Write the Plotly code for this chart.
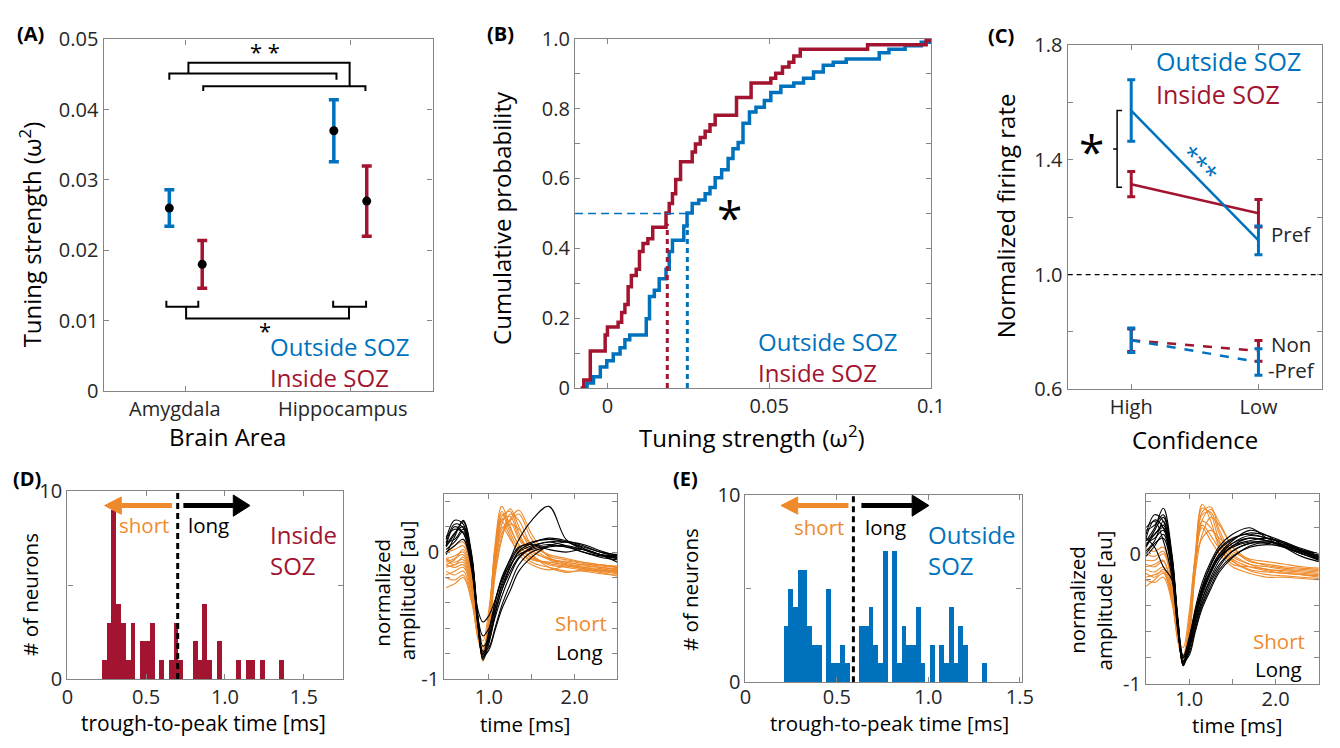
import plotly.graph_objects as go

W, H = 1340, 748
def fx(p): return p / W
def fy(p): return 1 - p / H

BLUE = '#0072BD'
RED = '#A2142F'
ORANGE = '#EE8A2C'
FONT = 'Open Sans'
AXC = '#858585'
TXT = '#262626'

# ---------------- data ----------------
# (A) tuning strength
a_categories = ['Amygdala', 'Hippocampus']
a_out_mean = [0.026, 0.037]
a_out_err = [0.0026, 0.0044]
a_in_mean = [0.018, 0.027]
a_in_err = [0.0034, 0.0050]

# (B) cumulative distributions (step vertices)
b_in_x = [-0.0083, -0.0073, -0.0053, -0.0007, 0.0000, 0.0033, 0.0044, 0.0054, 0.0064, 0.0074,
          0.0089, 0.0099, 0.0110, 0.0125, 0.0140, 0.0181, 0.0191, 0.0201, 0.0211, 0.0226,
          0.0262, 0.0272, 0.0287, 0.0302, 0.0317, 0.0333, 0.0399, 0.0444, 0.0505, 0.0520,
          0.0541, 0.0561, 0.0576, 0.0596, 0.0804, 0.0985, 0.1000]
b_in_y = [0.0, 0.023, 0.106, 0.152, 0.175, 0.188, 0.216, 0.239, 0.290, 0.322,
          0.340, 0.391, 0.414, 0.427, 0.460, 0.501, 0.528, 0.556, 0.597, 0.648,
          0.676, 0.699, 0.717, 0.735, 0.754, 0.781, 0.832, 0.873, 0.887, 0.901,
          0.919, 0.933, 0.951, 0.970, 0.983, 0.995, 1.0]
b_out_x = [-0.0078, -0.0063, -0.0043, -0.0022, -0.0002, 0.0018, 0.0039, 0.0054, 0.0069, 0.0120,
           0.0130, 0.0145, 0.0160, 0.0181, 0.0191, 0.0201, 0.0236, 0.0246, 0.0262, 0.0282,
           0.0302, 0.0317, 0.0333, 0.0353, 0.0373, 0.0388, 0.0404, 0.0419, 0.0439, 0.0459,
           0.0485, 0.0505, 0.0536, 0.0576, 0.0606, 0.0637, 0.0667, 0.0698, 0.0738, 0.0840,
           0.0870, 0.0920, 0.0970, 0.1000]
b_out_y = [0.0, 0.014, 0.032, 0.060, 0.078, 0.097, 0.115, 0.138, 0.152, 0.198,
           0.262, 0.280, 0.313, 0.340, 0.391, 0.423, 0.464, 0.501, 0.528, 0.538,
           0.556, 0.574, 0.602, 0.625, 0.657, 0.685, 0.703, 0.758, 0.790, 0.804,
           0.823, 0.846, 0.864, 0.873, 0.887, 0.905, 0.924, 0.933, 0.942, 0.960,
           0.970, 0.980, 0.990, 1.0]
b_in_median = 0.0185
b_out_median = 0.0247

# (C) normalized firing rate
c_categories = ['High', 'Low']
c_out_pref = [1.572, 1.119]
c_out_pref_err = [0.107, 0.050]
c_in_pref = [1.315, 1.214]
c_in_pref_err = [0.044, 0.048]
c_out_non = [0.771, 0.695]
c_out_non_err = [0.043, 0.046]
c_in_non = [0.771, 0.734]
c_in_non_err = [0.039, 0.036]

# (D) inside SOZ trough-to-peak histogram
d_bin_start = 0.221
d_bin_width = 0.0304
d_counts = [1, 3, 9, 4, 3, 1, 3, 0, 2, 2, 3, 0, 1, 0, 1, 3, 1, 0, 0, 2,
            1, 4, 1, 0, 2, 0, 0, 0, 1, 0, 1, 1, 0, 1, 0, 0, 0, 1]
d_threshold = 0.70

# (E) outside SOZ trough-to-peak histogram
e_bin_start = 0.212
e_bin_width = 0.0258
e_counts = [3, 5, 4, 6, 6, 3, 2, 2, 0, 5, 1, 1, 2, 1, 0, 0, 3, 3, 4, 2,
            1, 7, 0, 7, 1, 3, 2, 2, 4, 1, 0, 2, 0, 2, 1, 4, 1, 3, 2, 0,
            0, 0, 1]
e_threshold = 0.59

# waveforms (sample times in ms)
wf_t = [0.5, 0.6, 0.7, 0.8, 0.87, 0.93, 1.0, 1.07, 1.15, 1.25, 1.35, 1.5, 1.7, 1.9, 2.1, 2.3, 2.5]
d_short = [
    [-0.05, -0.08, -0.06, -0.25, -0.62, -0.84, -0.55, 0.05, 0.36, 0.20, 0.05, -0.05, -0.08, -0.10, -0.12, -0.14, -0.15],
    [-0.10, -0.12, -0.10, -0.30, -0.65, -0.80, -0.60, -0.10, 0.25, 0.28, 0.12, 0.00, -0.05, -0.08, -0.10, -0.12, -0.13],
    [0.00, 0.02, 0.05, -0.20, -0.60, -0.82, -0.65, -0.20, 0.10, 0.30, 0.25, 0.05, -0.05, -0.08, -0.10, -0.10, -0.12],
    [-0.15, -0.18, -0.15, -0.35, -0.68, -0.78, -0.50, 0.00, 0.30, 0.15, 0.02, -0.08, -0.12, -0.15, -0.15, -0.17, -0.18],
    [-0.20, -0.22, -0.18, -0.38, -0.65, -0.75, -0.58, -0.15, 0.15, 0.22, 0.18, 0.05, -0.02, -0.05, -0.08, -0.10, -0.12],
    [-0.05, -0.03, 0.00, -0.22, -0.58, -0.86, -0.62, -0.05, 0.28, 0.32, 0.15, -0.02, -0.10, -0.12, -0.14, -0.15, -0.16],
    [-0.12, -0.10, -0.08, -0.28, -0.62, -0.80, -0.56, -0.08, 0.20, 0.10, 0.00, -0.06, -0.08, -0.07, -0.09, -0.11, -0.12],
    [-0.08, -0.05, -0.02, -0.24, -0.60, -0.70, -0.45, -0.05, 0.18, 0.25, 0.30, 0.10, -0.03, -0.06, -0.08, -0.10, -0.11],
    [-0.02, 0.05, 0.08, -0.18, -0.55, -0.82, -0.60, -0.12, 0.22, 0.34, 0.20, 0.02, -0.06, -0.10, -0.12, -0.13, -0.15],
    [-0.18, -0.15, -0.12, -0.32, -0.64, -0.83, -0.52, 0.02, 0.32, 0.18, 0.06, -0.04, -0.09, -0.11, -0.13, -0.14, -0.16],
    [-0.28, -0.25, -0.20, -0.40, -0.66, -0.79, -0.54, -0.06, 0.26, 0.24, 0.10, -0.02, -0.12, -0.16, -0.14, -0.16, -0.19],
    [-0.06, -0.10, -0.04, -0.26, -0.61, -0.81, -0.63, -0.16, 0.12, 0.26, 0.33, 0.14, -0.04, -0.09, -0.11, -0.12, -0.14],
    [-0.10, -0.06, 0.02, -0.20, -0.57, -0.77, -0.57, -0.09, 0.24, 0.12, -0.02, -0.10, -0.14, -0.11, -0.13, -0.15, -0.17],
]
d_long = [
    [0.10, 0.25, 0.22, -0.10, -0.55, -0.85, -0.72, -0.50, -0.30, -0.12, 0.00, 0.05, 0.08, 0.05, 0.00, -0.04, -0.06],
    [0.05, 0.15, 0.20, -0.05, -0.50, -0.80, -0.70, -0.52, -0.35, -0.18, -0.05, 0.03, 0.06, 0.04, 0.00, -0.03, -0.05],
    [0.00, 0.05, 0.10, -0.15, -0.58, -0.83, -0.68, -0.45, -0.25, -0.08, 0.03, 0.08, 0.10, 0.08, 0.03, -0.02, -0.04],
    [0.08, 0.10, 0.18, -0.08, -0.45, -0.55, -0.50, -0.38, -0.22, -0.10, -0.02, 0.02, 0.05, 0.04, 0.02, -0.02, -0.05],
    [-0.02, 0.12, 0.25, -0.02, -0.52, -0.78, -0.75, -0.60, -0.42, -0.25, -0.10, 0.00, 0.04, 0.05, 0.02, -0.02, -0.04],
    [0.05, 0.20, 0.15, -0.12, -0.56, -0.84, -0.65, -0.40, -0.20, -0.05, 0.10, 0.25, 0.36, 0.10, 0.02, -0.02, -0.03],
    [0.12, 0.18, 0.15, -0.12, -0.55, -0.81, -0.62, -0.40, -0.22, -0.06, 0.04, 0.06, 0.02, 0.00, 0.02, -0.02, -0.08],
    [0.02, 0.08, 0.16, -0.10, -0.50, -0.74, -0.68, -0.48, -0.30, -0.15, -0.04, 0.04, 0.08, 0.08, 0.04, 0.00, -0.02],
    [0.04, 0.14, 0.24, -0.04, -0.53, -0.82, -0.77, -0.62, -0.45, -0.30, -0.15, -0.04, 0.05, 0.08, 0.06, 0.01, -0.03],
    [0.07, 0.22, 0.19, -0.06, -0.51, -0.66, -0.60, -0.44, -0.27, -0.11, 0.01, 0.07, 0.11, 0.09, 0.05, 0.00, -0.04],
]
e_short = [
    [-0.10, -0.08, -0.05, -0.30, -0.65, -0.85, -0.60, 0.00, 0.38, 0.25, 0.05, -0.08, -0.10, -0.12, -0.14, -0.15, -0.16],
    [-0.15, -0.18, -0.12, -0.35, -0.68, -0.80, -0.55, -0.05, 0.30, 0.32, 0.15, -0.02, -0.08, -0.10, -0.12, -0.13, -0.14],
    [0.00, -0.02, 0.02, -0.25, -0.62, -0.83, -0.62, -0.15, 0.15, 0.28, 0.22, 0.05, -0.06, -0.08, -0.10, -0.11, -0.12],
    [-0.20, -0.22, -0.18, -0.38, -0.66, -0.78, -0.50, -0.02, 0.20, 0.10, 0.00, -0.10, -0.15, -0.18, -0.18, -0.19, -0.20],
    [-0.05, -0.05, 0.00, -0.22, -0.60, -0.86, -0.65, -0.08, 0.32, 0.36, 0.18, 0.00, -0.08, -0.12, -0.13, -0.14, -0.15],
    [-0.12, -0.14, -0.10, -0.32, -0.64, -0.72, -0.45, -0.05, 0.12, 0.18, 0.12, 0.02, -0.04, -0.06, -0.08, -0.10, -0.11],
    [-0.25, -0.20, -0.15, -0.36, -0.66, -0.82, -0.58, -0.10, 0.25, 0.20, 0.08, -0.04, -0.10, -0.13, -0.15, -0.16, -0.17],
    [-0.08, -0.10, -0.06, -0.28, -0.62, -0.84, -0.60, -0.04, 0.35, 0.30, 0.10, -0.05, -0.12, -0.14, -0.15, -0.16, -0.18],
    [0.04, 0.02, 0.05, -0.20, -0.58, -0.82, -0.64, -0.12, 0.26, 0.34, 0.24, 0.06, -0.05, -0.09, -0.11, -0.12, -0.13],
    [-0.18, -0.16, -0.14, -0.34, -0.65, -0.81, -0.56, -0.06, 0.22, 0.14, 0.04, -0.06, -0.13, -0.16, -0.17, -0.18, -0.19],
]
e_long = [
    [0.15, 0.30, 0.25, -0.05, -0.55, -0.86, -0.74, -0.55, -0.35, -0.18, -0.05, 0.06, 0.12, 0.10, 0.05, 0.00, -0.04],
    [0.05, 0.15, 0.20, -0.10, -0.58, -0.84, -0.70, -0.50, -0.30, -0.12, 0.00, 0.10, 0.18, 0.14, 0.06, 0.00, -0.03],
    [0.10, 0.20, 0.35, 0.00, -0.50, -0.80, -0.72, -0.55, -0.38, -0.22, -0.10, 0.02, 0.08, 0.10, 0.06, 0.02, -0.02],
    [0.00, 0.08, 0.12, -0.15, -0.60, -0.85, -0.68, -0.45, -0.25, -0.08, 0.04, 0.12, 0.15, 0.12, 0.08, 0.02, -0.02],
    [0.08, 0.12, 0.18, -0.08, -0.52, -0.78, -0.70, -0.52, -0.35, -0.20, -0.08, 0.02, 0.08, 0.08, 0.05, 0.00, -0.05],
    [0.20, 0.25, 0.10, -0.18, -0.60, -0.83, -0.66, -0.42, -0.22, -0.06, 0.06, 0.15, 0.20, 0.12, 0.05, -0.02, -0.06],
    [0.02, 0.10, 0.25, -0.05, -0.52, -0.82, -0.76, -0.58, -0.40, -0.25, -0.12, -0.02, 0.05, 0.07, 0.05, 0.01, -0.03],
    [0.12, 0.05, -0.10, -0.20, -0.58, -0.84, -0.70, -0.48, -0.28, -0.12, 0.00, 0.08, 0.12, 0.10, 0.06, 0.02, -0.02],
    [0.06, 0.18, 0.28, -0.02, -0.54, -0.85, -0.72, -0.50, -0.32, -0.15, -0.02, 0.08, 0.14, 0.12, 0.08, 0.03, 0.00],
    [0.10, 0.15, 0.22, -0.08, -0.56, -0.80, -0.68, -0.48, -0.30, -0.14, -0.03, 0.06, 0.10, 0.12, 0.09, 0.04, 0.00],
    [0.18, 0.22, 0.30, -0.03, -0.53, -0.83, -0.78, -0.60, -0.42, -0.27, -0.14, -0.03, 0.06, 0.09, 0.07, 0.02, -0.04],
    [-0.02, 0.06, 0.15, -0.12, -0.57, -0.86, -0.71, -0.47, -0.26, -0.09, 0.03, 0.11, 0.16, 0.14, 0.09, 0.03, -0.01],
    [0.12, 0.26, 0.20, -0.10, -0.55, -0.79, -0.64, -0.44, -0.27, -0.13, -0.02, 0.05, 0.09, 0.09, 0.07, 0.02, -0.05],
]

# ---------------- figure ----------------
fig = go.Figure()

# (A)
a_pos = [i + 1 for i in range(len(a_categories))]
fig.add_trace(go.Scatter(x=[p - 0.1 for p in a_pos], y=a_out_mean, mode='markers',
                         marker=dict(color='black', size=9),
                         error_y=dict(type='data', array=a_out_err, color=BLUE, thickness=3.5, width=5),
                         xaxis='x', yaxis='y', showlegend=False))
fig.add_trace(go.Scatter(x=[p + 0.1 for p in a_pos], y=a_in_mean, mode='markers',
                         marker=dict(color='black', size=9),
                         error_y=dict(type='data', array=a_in_err, color=RED, thickness=3.5, width=5),
                         xaxis='x', yaxis='y', showlegend=False))

# (B)
fig.add_trace(go.Scatter(x=b_out_x, y=b_out_y, mode='lines', line=dict(color=BLUE, width=3.5, shape='hv'),
                         xaxis='x2', yaxis='y2', showlegend=False))
fig.add_trace(go.Scatter(x=b_in_x, y=b_in_y, mode='lines', line=dict(color=RED, width=3.5, shape='hv'),
                         xaxis='x2', yaxis='y2', showlegend=False))

# (C)
c_pos = [i + 1 for i in range(len(c_categories))]
for ys, es, col, dash in [(c_in_non, c_in_non_err, RED, 'dash'), (c_out_non, c_out_non_err, BLUE, 'dash'),
                          (c_in_pref, c_in_pref_err, RED, 'solid'), (c_out_pref, c_out_pref_err, BLUE, 'solid')]:
    fig.add_trace(go.Scatter(x=c_pos, y=ys, mode='lines', line=dict(color=col, width=2.5, dash=dash),
                             error_y=dict(type='data', array=es, color=col, thickness=3, width=4),
                             xaxis='x3', yaxis='y3', showlegend=False))

# (D) histogram
d_centers = [d_bin_start + d_bin_width * (i + 0.5) for i in range(len(d_counts))]
fig.add_trace(go.Bar(x=d_centers, y=d_counts, width=d_bin_width, marker=dict(color=RED, line=dict(width=0)),
                     xaxis='x4', yaxis='y4', showlegend=False))
# (E) histogram
e_centers = [e_bin_start + e_bin_width * (i + 0.5) for i in range(len(e_counts))]
fig.add_trace(go.Bar(x=e_centers, y=e_counts, width=e_bin_width, marker=dict(color=BLUE, line=dict(width=0)),
                     xaxis='x6', yaxis='y6', showlegend=False))

# waveforms
for tr in d_short:
    fig.add_trace(go.Scatter(x=wf_t, y=tr, mode='lines', line=dict(color=ORANGE, width=1.1, shape='spline'),
                             xaxis='x5', yaxis='y5', showlegend=False))
for tr in d_long:
    fig.add_trace(go.Scatter(x=wf_t, y=tr, mode='lines', line=dict(color='black', width=1.1, shape='spline'),
                             xaxis='x5', yaxis='y5', showlegend=False))
for tr in e_short:
    fig.add_trace(go.Scatter(x=wf_t, y=tr, mode='lines', line=dict(color=ORANGE, width=1.1, shape='spline'),
                             xaxis='x7', yaxis='y7', showlegend=False))
for tr in e_long:
    fig.add_trace(go.Scatter(x=wf_t, y=tr, mode='lines', line=dict(color='black', width=1.1, shape='spline'),
                             xaxis='x7', yaxis='y7', showlegend=False))

# ---------------- axes ----------------
TICK = 20
def axis(domain, rng, anchor, size=TICK, **kw):
    d = dict(domain=domain, range=rng, anchor=anchor, showline=True, linecolor=AXC, linewidth=1.3,
             mirror='ticks', ticks='inside', ticklen=5, tickcolor=AXC, tickwidth=1,
             showgrid=False, zeroline=False, tickfont=dict(family=FONT, size=size, color=TXT))
    d.update(kw)
    return d

D_XDOM = (62.3, 342.3); D_XR = [0, 1.75]; D_YDOM = (690, 495)
E_XDOM = (750.7, 1031); E_XR = [0, 1.51]; E_YDOM = (693.3, 499.3)

fig.update_layout(
    xaxis=axis([fx(99), fx(433)], [0.5, 2.5], 'y', tickvals=a_pos, showticklabels=False),
    yaxis=axis([fy(391), fy(26.3)], [0, 0.05], 'x', tickvals=[0, 0.01, 0.02, 0.03, 0.04, 0.05],
               ticktext=['0', '0.01', '0.02', '0.03', '0.04', '0.05']),
    xaxis2=axis([fx(577.7), fx(939)], [-0.01, 0.1], 'y2', tickvals=[0, 0.05, 0.1], ticktext=['0', '0.05', '0.1']),
    yaxis2=axis([fy(388), fy(25.7)], [0, 1], 'x2', tickvals=[i / 10 for i in range(11)],
                ticktext=['0', '', '0.2', '', '0.4', '', '0.6', '', '0.8', '', '1.0']),
    xaxis3=axis([fx(1077.7), fx(1336)], [0.5, 2.5], 'y3', tickvals=c_pos, ticktext=c_categories),
    yaxis3=axis([fy(389.3), fy(32.3)], [0.6, 1.8], 'x3', tickvals=[0.6, 0.8, 1.0, 1.2, 1.4, 1.6, 1.8],
                ticktext=['0.6', '', '1.0', '', '1.4', '', '1.8']),
    xaxis4=axis([fx(D_XDOM[0]), fx(D_XDOM[1])], D_XR, 'y4', tickvals=[0, 0.5, 1.0, 1.5],
                ticktext=['0', '0.5', '1.0', '1.5']),
    yaxis4=axis([fy(D_YDOM[0]), fy(D_YDOM[1])], [0, 10], 'x4', tickvals=[0, 5, 10], ticktext=['0', '', '10']),
    xaxis5=axis([fx(445), fx(620.7)], [0.48, 2.5], 'y5', tickvals=[1.0, 1.5, 2.0], ticktext=['1.0', '', '2.0']),
    yaxis5=axis([fy(690), fy(498.3)], [-1, 0.455], 'x5',
                tickvals=[-1, -0.8, -0.6, -0.4, -0.2, 0, 0.2, 0.4], ticktext=['-1', '', '', '', '', '0', '', '']),
    xaxis6=axis([fx(E_XDOM[0]), fx(E_XDOM[1])], E_XR, 'y6', tickvals=[0, 0.5, 1.0, 1.5],
                ticktext=['0', '0.5', '1.0', '1.5'], ticklabelstandoff=-3),
    yaxis6=axis([fy(E_YDOM[0]), fy(E_YDOM[1])], [0, 10], 'x6', tickvals=[0, 5, 10], ticktext=['0', '', '10']),
    xaxis7=axis([fx(1157.3), fx(1332.7)], [0.5, 2.5], 'y7', tickvals=[1.0, 1.5, 2.0], ticktext=['1.0', '', '2.0'],
                ticklabelstandoff=-3),
    yaxis7=axis([fy(695), fy(498.3)], [-1, 0.457], 'x7',
                tickvals=[-1, -0.8, -0.6, -0.4, -0.2, 0, 0.2, 0.4], ticktext=['-1', '', '', '', '', '0', '', '']),
)

# ---------------- shapes ----------------
shapes = []
def poly(pts, xref, yref, color='black', width=2, dash='solid', fill=None):
    path = 'M ' + ' L '.join(f'{x},{y}' for x, y in pts)
    s = dict(type='path', path=path, xref=xref, yref=yref,
             line=dict(color=color, width=width, dash=dash))
    if fill:
        s['path'] += ' Z'
        s['fillcolor'] = fill
    shapes.append(s)

# (A) significance brackets
poly([(0.90, 0.04424), (0.90, 0.04515), (1.916, 0.04515), (1.916, 0.04424)], 'x', 'y')
poly([(1.106, 0.04264), (1.106, 0.04333), (2.092, 0.04333), (2.092, 0.04264)], 'x', 'y')
poly([(1.016, 0.04515), (1.016, 0.04666), (1.996, 0.04666), (1.996, 0.04333)], 'x', 'y')
poly([(0.882, 0.01282), (0.882, 0.01196), (1.076, 0.01196), (1.076, 0.01282)], 'x', 'y')
poly([(1.896, 0.01282), (1.896, 0.01196), (2.096, 0.01196), (2.096, 0.01282)], 'x', 'y')
poly([(1.002, 0.01196), (1.002, 0.01031), (1.992, 0.01031), (1.992, 0.01196)], 'x', 'y')

# (B) medians
poly([(-0.01, 0.5), (b_out_median, 0.5)], 'x2', 'y2', color=BLUE, width=1.5, dash='8px,5px')
poly([(b_in_median, 0), (b_in_median, 0.47)], 'x2', 'y2', color=RED, width=3, dash='5px,4px')
poly([(b_out_median, 0), (b_out_median, 0.47)], 'x2', 'y2', color=BLUE, width=3, dash='5px,4px')

# (C) baseline and bracket
poly([(0.5, 1.0), (2.5, 1.0)], 'x3', 'y3', color='black', width=1.2, dash='5px,4px')
poly([(0.928, 1.572), (0.889, 1.572), (0.889, 1.304), (0.928, 1.304)], 'x3', 'y3', width=1.5)
poly([(0.889, 1.438), (0.858, 1.438)], 'x3', 'y3', width=1.5)

# (D)/(E) thresholds
poly([(d_threshold, 0), (d_threshold, 10)], 'x4', 'y4', color='black', width=3, dash='6px,4px')
poly([(e_threshold, 0), (e_threshold, 10)], 'x6', 'y6', color='black', width=3, dash='6px,4px')

# arrows drawn as shaft + filled head
def arrow(x0, x1, y, xr, yr, color, xdom, xrng, ydom, head_len=17, head_half=9, shaft=5):
    ppx = (xdom[1] - xdom[0]) / (xrng[1] - xrng[0])     # pixels per x unit
    ppy = (ydom[0] - ydom[1]) / 10.0                    # pixels per count
    sgn = 1 if x1 > x0 else -1
    hl = head_len / ppx
    hh = head_half / ppy
    base = x1 - sgn * hl
    poly([(x0, y), (base, y)], xr, yr, color=color, width=shaft)
    poly([(base, y - hh), (x1, y), (base, y + hh)], xr, yr, color=color, width=1, fill=color)

arrow(0.663, 0.236, 9.23, 'x4', 'y4', ORANGE, D_XDOM, D_XR, D_YDOM)
arrow(0.736, 1.159, 9.23, 'x4', 'y4', 'black', D_XDOM, D_XR, D_YDOM, head_half=11)
arrow(0.563, 0.194, 9.45, 'x6', 'y6', ORANGE, E_XDOM, E_XR, E_YDOM)
arrow(0.634, 1.003, 9.45, 'x6', 'y6', 'black', E_XDOM, E_XR, E_YDOM, head_half=11)

fig.update_layout(shapes=shapes)

# ---------------- annotations ----------------
ann = []
def txt(x, y, s, size=20, color='black', xanchor='center', yanchor='middle', angle=0, bold=False, ref=None,
        align='left'):
    if ref is None:
        xr, yr = 'paper', 'paper'
        x, y = fx(x), fy(y)
    else:
        xr, yr = ref
    ann.append(dict(x=x, y=y, xref=xr, yref=yr, text=('<b>%s</b>' % s) if bold else s, showarrow=False,
                    font=dict(family=FONT, size=size, color=color), xanchor=xanchor, yanchor=yanchor,
                    textangle=angle, align=align, borderpad=0))

def two_lines(x, y, l1, c1, l2, c2, size):
    s = '<span style="color:%s">%s</span><br><span style="color:%s">%s</span>' % (c1, l1, c2, l2)
    txt(x, y, s, size, c1, xanchor='left')

TITLE = 24
LEG = 24
SMALL = 20.5

# panel labels
txt(25, 20, '(A)', 20, bold=True)
txt(502, 20, '(B)', 20, bold=True)
txt(1010, 22, '(C)', 20, bold=True)
txt(21, 482, '(D)', 20, bold=True)
txt(690, 482, '(E)', 20, bold=True)

# (A)
txt(171.7, 409, a_categories[0], TICK, TXT)
txt(342, 409, a_categories[1], TICK, TXT)
txt(225, 438, 'Brain Area', TITLE)
txt(25, 229, 'Tuning strength (ω<sup>2</sup>)', TITLE, angle=-90)
txt(1.48, 0.0483, '* *', 22, ref=('x', 'y'))
txt(1.48, 0.0086, '*', 22, ref=('x', 'y'))
two_lines(266.7, 361.5, 'Outside SOZ', BLUE, 'Inside SOZ', RED, LEG)

# (B)
txt(503, 211, 'Cumulative probability', TITLE, angle=-90)
txt(757, 438, 'Tuning strength (ω<sup>2</sup>)', TITLE)
txt(0.0378, 0.49, '*', 46, ref=('x2', 'y2'))
two_lines(762.7, 355.5, 'Outside SOZ', BLUE, 'Inside SOZ', RED, LEG)

# (C)
txt(1015, 209, 'Normalized firing rate', TITLE, angle=-90)
txt(1207, 441, 'Confidence', TITLE)
two_lines(1166, 66, 'Outside SOZ', BLUE, 'Inside SOZ', RED, 25)
txt(0.685, 1.432, '*', 46, ref=('x3', 'y3'))
txt(1.538, 1.388, '***', 24, BLUE, angle=46, ref=('x3', 'y3'))
txt(2.09, 1.142, 'Pref', SMALL, TXT, xanchor='left', ref=('x3', 'y3'))
txt(2.09, 0.759, 'Non', SMALL, TXT, xanchor='left', ref=('x3', 'y3'))
txt(2.07, 0.668, '-Pref', SMALL, TXT, xanchor='left', ref=('x3', 'y3'))

# (D)
txt(25, 602, '# of neurons', SMALL, angle=-90)
txt(200, 736, 'trough-to-peak time [ms]', 21)
txt(140, 530, 'short', SMALL, ORANGE)
txt(206, 530, 'long', SMALL, 'black')
two_lines(267.3, 556.5, 'Inside', RED, 'SOZ', RED, LEG)
txt(382, 600, 'normalized', SMALL, angle=-90)
txt(408, 598, 'amplitude [au]', SMALL, angle=-90)
txt(527, 737, 'time [ms]', SMALL)
txt(584, 632, 'Short', SMALL, ORANGE)
txt(582, 662, 'Long', SMALL, 'black')

# (E)
txt(695, 597, '# of neurons', SMALL, angle=-90)
txt(897, 736, 'trough-to-peak time [ms]', 20.5)
txt(825, 532, 'short', SMALL, ORANGE)
txt(893, 532, 'long', SMALL, 'black')
two_lines(935, 556.5, 'Outside', BLUE, 'SOZ', BLUE, LEG)
txt(1087, 608, 'normalized', SMALL, angle=-90)
txt(1115, 608, 'amplitude [au]', SMALL, angle=-90)
txt(1250, 738, 'time [ms]', SMALL)
txt(1292, 650, 'Short', SMALL, ORANGE)
txt(1292, 680, 'Long', SMALL, 'black')

fig.update_layout(annotations=ann, width=W, height=H, margin=dict(l=0, r=0, t=0, b=0),
                  paper_bgcolor='white', plot_bgcolor='white', bargap=0,
                  font=dict(family=FONT, color='black'))

fig.write_html('out.html')
